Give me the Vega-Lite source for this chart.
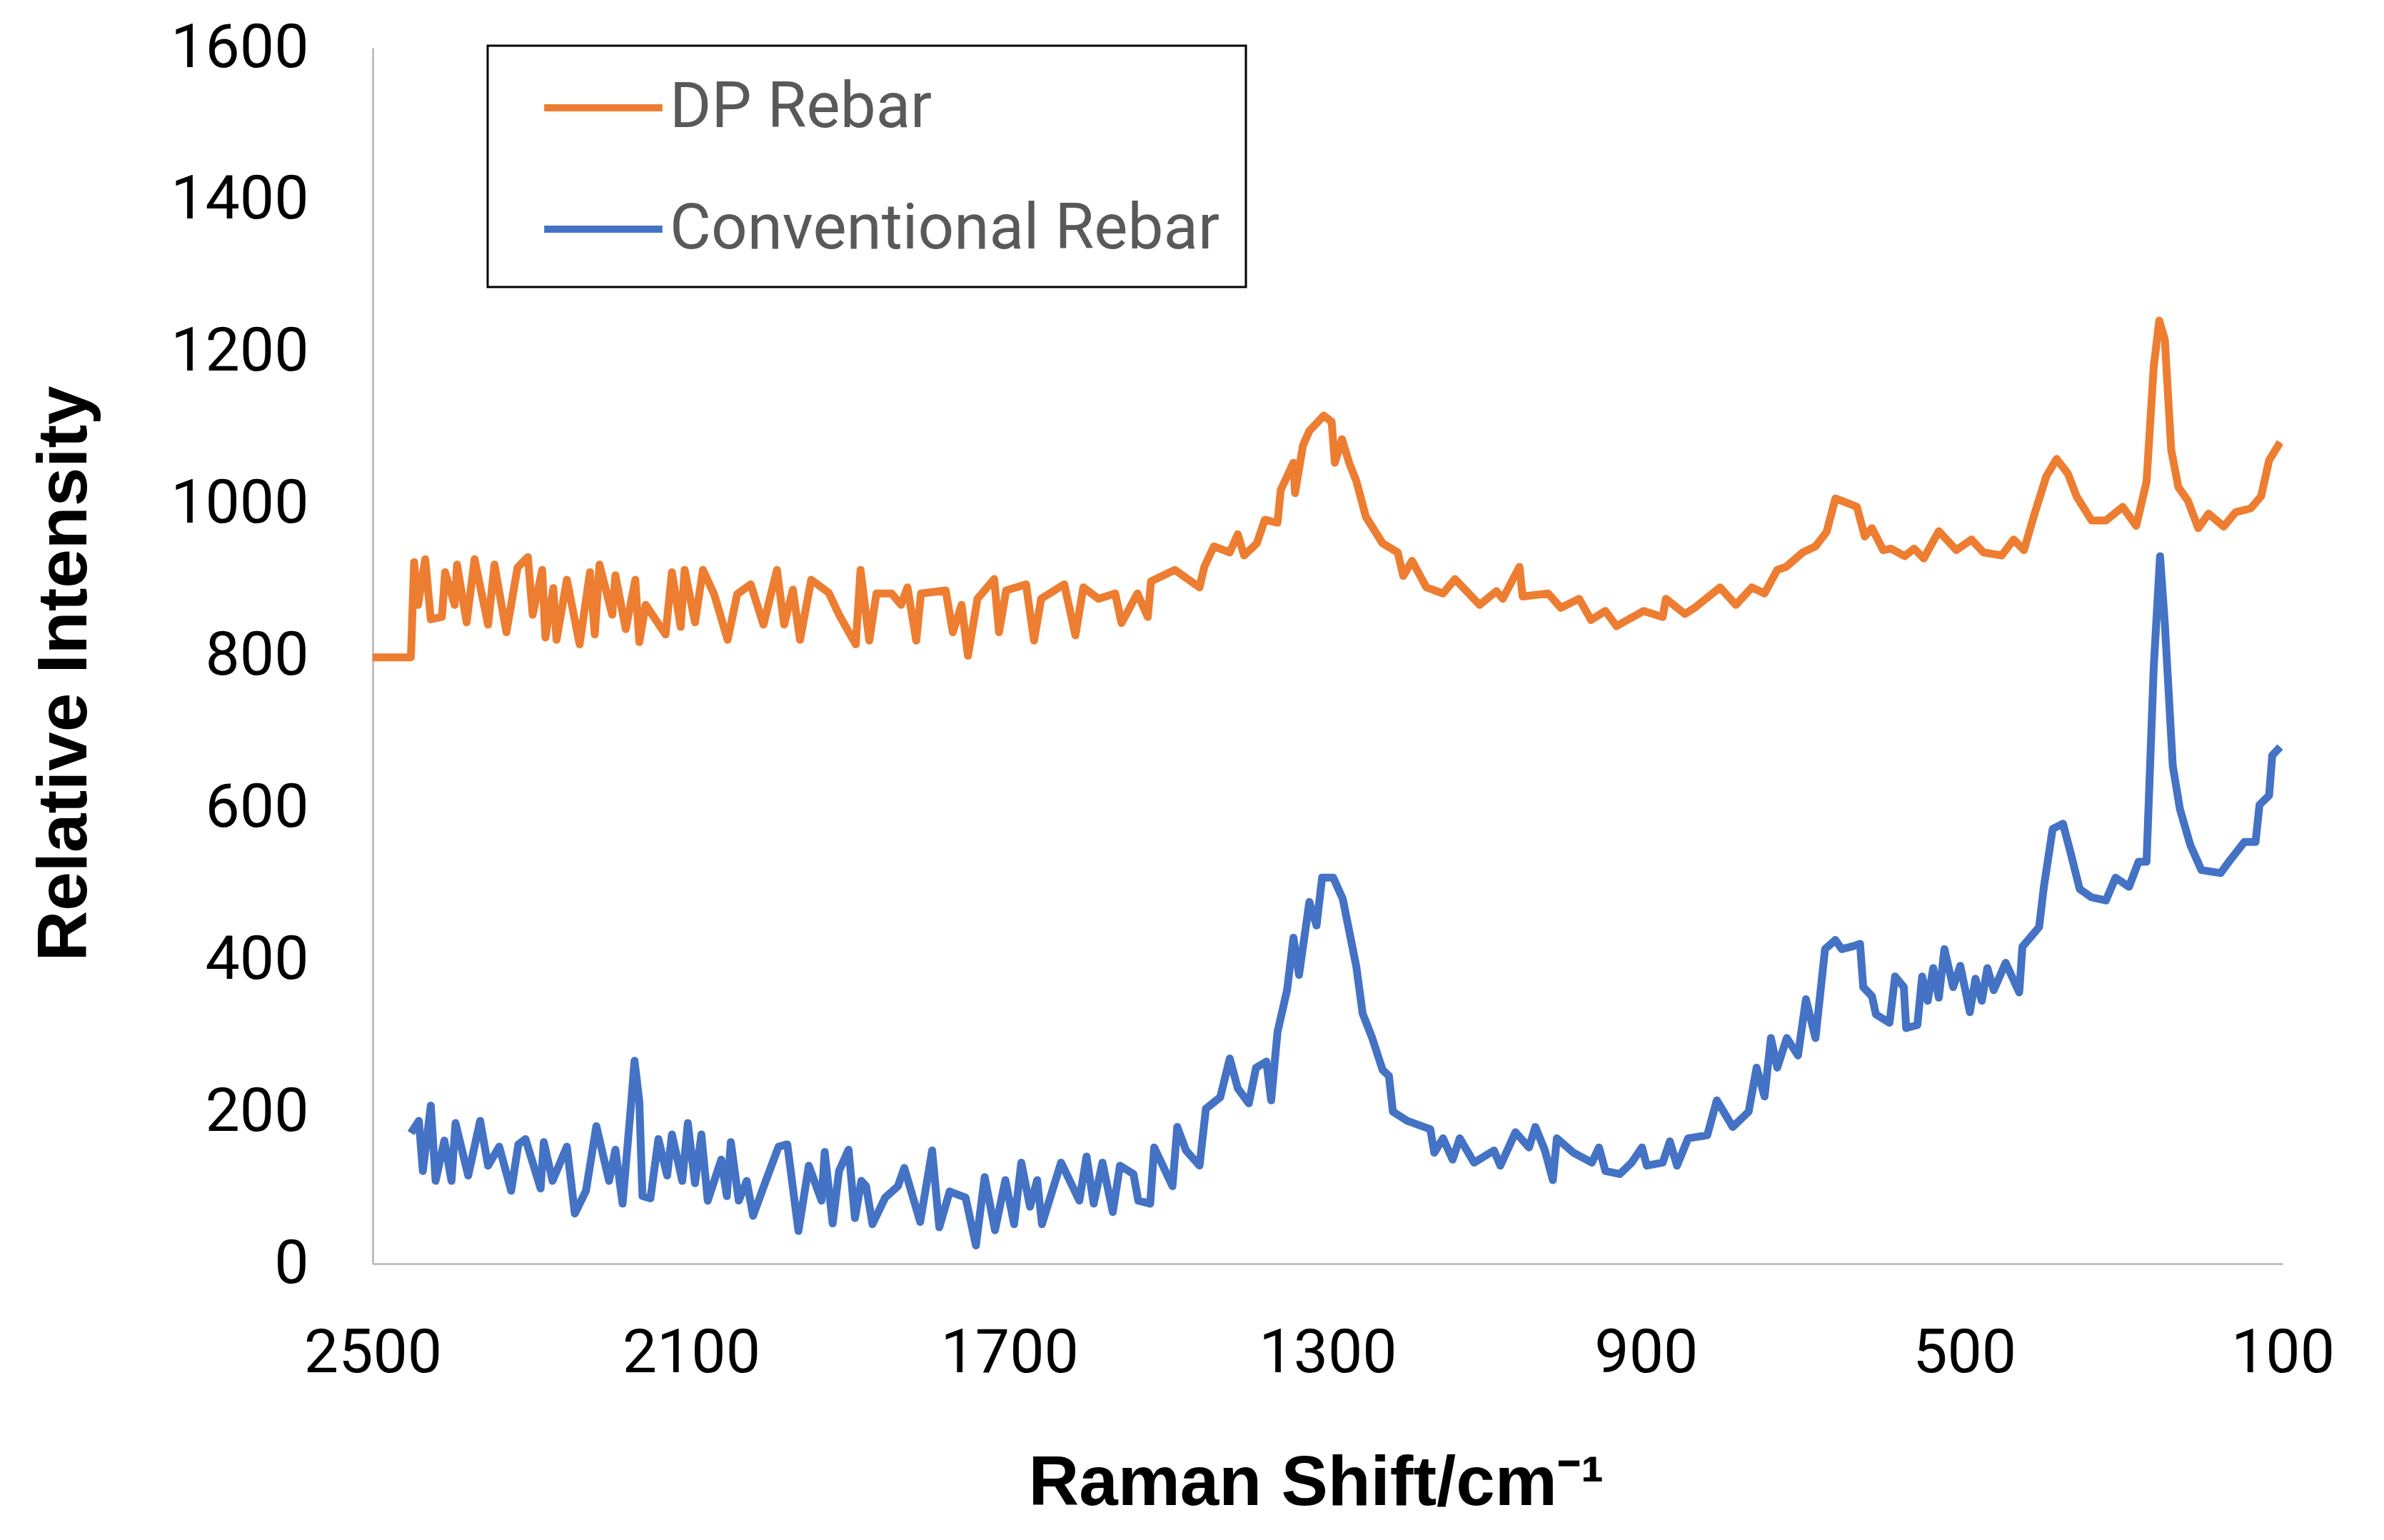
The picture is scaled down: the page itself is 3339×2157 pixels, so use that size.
{
"$schema": "https://vega.github.io/schema/vega-lite/v6.json",
"width": 2675, "height": 1703,
"autosize": {"type": "none"},
"padding": {"left": 522, "top": 67, "right": 142, "bottom": 387},
"background": "white",
"config": {"view": {"stroke": null}},
"data": {"values": [
{"s":"DP Rebar","x":2500,"y":798},{"s":"DP Rebar","x":2452,"y":798},{"s":"DP Rebar","x":2448,"y":923},{"s":"DP Rebar","x":2443,"y":867},{"s":"DP Rebar","x":2434,"y":927},{"s":"DP Rebar","x":2427,"y":848},{"s":"DP Rebar","x":2413,"y":851},{"s":"DP Rebar","x":2409,"y":910},{"s":"DP Rebar","x":2397,"y":867},{"s":"DP Rebar","x":2394,"y":920},{"s":"DP Rebar","x":2382,"y":844},{"s":"DP Rebar","x":2372,"y":927},{"s":"DP Rebar","x":2355,"y":841},{"s":"DP Rebar","x":2347,"y":920},{"s":"DP Rebar","x":2332,"y":831},{"s":"DP Rebar","x":2318,"y":916},{"s":"DP Rebar","x":2305,"y":930},{"s":"DP Rebar","x":2299,"y":854},{"s":"DP Rebar","x":2287,"y":913},{"s":"DP Rebar","x":2283,"y":824},{"s":"DP Rebar","x":2273,"y":889},{"s":"DP Rebar","x":2269,"y":821},{"s":"DP Rebar","x":2256,"y":900},{"s":"DP Rebar","x":2240,"y":815},{"s":"DP Rebar","x":2227,"y":910},{"s":"DP Rebar","x":2221,"y":828},{"s":"DP Rebar","x":2215,"y":920},{"s":"DP Rebar","x":2199,"y":854},{"s":"DP Rebar","x":2195,"y":906},{"s":"DP Rebar","x":2182,"y":835},{"s":"DP Rebar","x":2170,"y":900},{"s":"DP Rebar","x":2165,"y":818},{"s":"DP Rebar","x":2157,"y":867},{"s":"DP Rebar","x":2132,"y":828},{"s":"DP Rebar","x":2124,"y":910},{"s":"DP Rebar","x":2113,"y":838},{"s":"DP Rebar","x":2108,"y":913},{"s":"DP Rebar","x":2095,"y":844},{"s":"DP Rebar","x":2085,"y":913},{"s":"DP Rebar","x":2071,"y":881},{"s":"DP Rebar","x":2054,"y":821},{"s":"DP Rebar","x":2042,"y":881},{"s":"DP Rebar","x":2025,"y":894},{"s":"DP Rebar","x":2009,"y":841},{"s":"DP Rebar","x":1992,"y":913},{"s":"DP Rebar","x":1983,"y":841},{"s":"DP Rebar","x":1972,"y":887},{"s":"DP Rebar","x":1963,"y":821},{"s":"DP Rebar","x":1949,"y":900},{"s":"DP Rebar","x":1927,"y":883},{"s":"DP Rebar","x":1914,"y":854},{"s":"DP Rebar","x":1893,"y":815},{"s":"DP Rebar","x":1887,"y":913},{"s":"DP Rebar","x":1876,"y":820},{"s":"DP Rebar","x":1867,"y":882},{"s":"DP Rebar","x":1848,"y":882},{"s":"DP Rebar","x":1836,"y":867},{"s":"DP Rebar","x":1828,"y":890},{"s":"DP Rebar","x":1817,"y":820},{"s":"DP Rebar","x":1811,"y":882},{"s":"DP Rebar","x":1780,"y":886},{"s":"DP Rebar","x":1771,"y":831},{"s":"DP Rebar","x":1760,"y":867},{"s":"DP Rebar","x":1752,"y":800},{"s":"DP Rebar","x":1740,"y":875},{"s":"DP Rebar","x":1719,"y":901},{"s":"DP Rebar","x":1713,"y":831},{"s":"DP Rebar","x":1704,"y":886},{"s":"DP Rebar","x":1679,"y":894},{"s":"DP Rebar","x":1669,"y":820},{"s":"DP Rebar","x":1660,"y":875},{"s":"DP Rebar","x":1631,"y":894},{"s":"DP Rebar","x":1617,"y":827},{"s":"DP Rebar","x":1607,"y":890},{"s":"DP Rebar","x":1588,"y":875},{"s":"DP Rebar","x":1567,"y":882},{"s":"DP Rebar","x":1559,"y":843},{"s":"DP Rebar","x":1539,"y":882},{"s":"DP Rebar","x":1526,"y":851},{"s":"DP Rebar","x":1522,"y":898},{"s":"DP Rebar","x":1492,"y":913},{"s":"DP Rebar","x":1461,"y":890},{"s":"DP Rebar","x":1455,"y":917},{"s":"DP Rebar","x":1443,"y":944},{"s":"DP Rebar","x":1423,"y":936},{"s":"DP Rebar","x":1413,"y":960},{"s":"DP Rebar","x":1405,"y":932},{"s":"DP Rebar","x":1389,"y":948},{"s":"DP Rebar","x":1379,"y":979},{"s":"DP Rebar","x":1363,"y":975},{"s":"DP Rebar","x":1359,"y":1018},{"s":"DP Rebar","x":1343,"y":1054},{"s":"DP Rebar","x":1341,"y":1014},{"s":"DP Rebar","x":1331,"y":1077},{"s":"DP Rebar","x":1323,"y":1096},{"s":"DP Rebar","x":1305,"y":1116},{"s":"DP Rebar","x":1295,"y":1108},{"s":"DP Rebar","x":1291,"y":1054},{"s":"DP Rebar","x":1282,"y":1085},{"s":"DP Rebar","x":1273,"y":1054},{"s":"DP Rebar","x":1264,"y":1030},{"s":"DP Rebar","x":1252,"y":983},{"s":"DP Rebar","x":1231,"y":948},{"s":"DP Rebar","x":1212,"y":936},{"s":"DP Rebar","x":1205,"y":905},{"s":"DP Rebar","x":1194,"y":925},{"s":"DP Rebar","x":1176,"y":890},{"s":"DP Rebar","x":1155,"y":882},{"s":"DP Rebar","x":1140,"y":901},{"s":"DP Rebar","x":1109,"y":867},{"s":"DP Rebar","x":1088,"y":885},{"s":"DP Rebar","x":1080,"y":875},{"s":"DP Rebar","x":1059,"y":917},{"s":"DP Rebar","x":1055,"y":878},{"s":"DP Rebar","x":1023,"y":882},{"s":"DP Rebar","x":1007,"y":863},{"s":"DP Rebar","x":984,"y":875},{"s":"DP Rebar","x":969,"y":847},{"s":"DP Rebar","x":951,"y":859},{"s":"DP Rebar","x":937,"y":839},{"s":"DP Rebar","x":903,"y":859},{"s":"DP Rebar","x":879,"y":851},{"s":"DP Rebar","x":875,"y":875},{"s":"DP Rebar","x":851,"y":855},{"s":"DP Rebar","x":839,"y":863},{"s":"DP Rebar","x":807,"y":890},{"s":"DP Rebar","x":787,"y":867},{"s":"DP Rebar","x":767,"y":890},{"s":"DP Rebar","x":751,"y":882},{"s":"DP Rebar","x":735,"y":913},{"s":"DP Rebar","x":724,"y":917},{"s":"DP Rebar","x":703,"y":936},{"s":"DP Rebar","x":687,"y":944},{"s":"DP Rebar","x":673,"y":963},{"s":"DP Rebar","x":662,"y":1007},{"s":"DP Rebar","x":654,"y":1004},{"s":"DP Rebar","x":635,"y":996},{"s":"DP Rebar","x":625,"y":957},{"s":"DP Rebar","x":616,"y":968},{"s":"DP Rebar","x":602,"y":939},{"s":"DP Rebar","x":592,"y":941},{"s":"DP Rebar","x":575,"y":931},{"s":"DP Rebar","x":563,"y":941},{"s":"DP Rebar","x":551,"y":928},{"s":"DP Rebar","x":532,"y":964},{"s":"DP Rebar","x":510,"y":939},{"s":"DP Rebar","x":491,"y":953},{"s":"DP Rebar","x":476,"y":936},{"s":"DP Rebar","x":453,"y":932},{"s":"DP Rebar","x":438,"y":953},{"s":"DP Rebar","x":425,"y":939},{"s":"DP Rebar","x":412,"y":986},{"s":"DP Rebar","x":397,"y":1036},{"s":"DP Rebar","x":384,"y":1059},{"s":"DP Rebar","x":370,"y":1040},{"s":"DP Rebar","x":359,"y":1010},{"s":"DP Rebar","x":340,"y":978},{"s":"DP Rebar","x":322,"y":978},{"s":"DP Rebar","x":301,"y":996},{"s":"DP Rebar","x":284,"y":971},{"s":"DP Rebar","x":271,"y":1029},{"s":"DP Rebar","x":262,"y":1180},{"s":"DP Rebar","x":255,"y":1241},{"s":"DP Rebar","x":248,"y":1216},{"s":"DP Rebar","x":240,"y":1071},{"s":"DP Rebar","x":231,"y":1022},{"s":"DP Rebar","x":219,"y":1004},{"s":"DP Rebar","x":206,"y":968},{"s":"DP Rebar","x":193,"y":987},{"s":"DP Rebar","x":174,"y":970},{"s":"DP Rebar","x":159,"y":989},{"s":"DP Rebar","x":140,"y":994},{"s":"DP Rebar","x":127,"y":1010},{"s":"DP Rebar","x":117,"y":1057},{"s":"DP Rebar","x":103,"y":1081},
{"s":"Conventional Rebar","x":2452,"y":172},{"s":"Conventional Rebar","x":2442,"y":188},{"s":"Conventional Rebar","x":2437,"y":122},{"s":"Conventional Rebar","x":2427,"y":208},{"s":"Conventional Rebar","x":2421,"y":109},{"s":"Conventional Rebar","x":2410,"y":162},{"s":"Conventional Rebar","x":2401,"y":109},{"s":"Conventional Rebar","x":2396,"y":185},{"s":"Conventional Rebar","x":2380,"y":116},{"s":"Conventional Rebar","x":2365,"y":188},{"s":"Conventional Rebar","x":2355,"y":129},{"s":"Conventional Rebar","x":2341,"y":154},{"s":"Conventional Rebar","x":2326,"y":96},{"s":"Conventional Rebar","x":2317,"y":157},{"s":"Conventional Rebar","x":2308,"y":164},{"s":"Conventional Rebar","x":2289,"y":99},{"s":"Conventional Rebar","x":2285,"y":160},{"s":"Conventional Rebar","x":2274,"y":109},{"s":"Conventional Rebar","x":2256,"y":154},{"s":"Conventional Rebar","x":2246,"y":66},{"s":"Conventional Rebar","x":2232,"y":96},{"s":"Conventional Rebar","x":2219,"y":181},{"s":"Conventional Rebar","x":2203,"y":109},{"s":"Conventional Rebar","x":2195,"y":150},{"s":"Conventional Rebar","x":2186,"y":79},{"s":"Conventional Rebar","x":2175,"y":214},{"s":"Conventional Rebar","x":2171,"y":267},{"s":"Conventional Rebar","x":2165,"y":214},{"s":"Conventional Rebar","x":2161,"y":89},{"s":"Conventional Rebar","x":2151,"y":86},{"s":"Conventional Rebar","x":2141,"y":164},{"s":"Conventional Rebar","x":2130,"y":116},{"s":"Conventional Rebar","x":2124,"y":170},{"s":"Conventional Rebar","x":2111,"y":109},{"s":"Conventional Rebar","x":2104,"y":185},{"s":"Conventional Rebar","x":2095,"y":106},{"s":"Conventional Rebar","x":2087,"y":170},{"s":"Conventional Rebar","x":2079,"y":83},{"s":"Conventional Rebar","x":2062,"y":137},{"s":"Conventional Rebar","x":2055,"y":89},{"s":"Conventional Rebar","x":2050,"y":160},{"s":"Conventional Rebar","x":2040,"y":83},{"s":"Conventional Rebar","x":2030,"y":109},{"s":"Conventional Rebar","x":2022,"y":63},{"s":"Conventional Rebar","x":2006,"y":109},{"s":"Conventional Rebar","x":1990,"y":154},{"s":"Conventional Rebar","x":1979,"y":157},{"s":"Conventional Rebar","x":1965,"y":43},{"s":"Conventional Rebar","x":1952,"y":129},{"s":"Conventional Rebar","x":1936,"y":83},{"s":"Conventional Rebar","x":1932,"y":147},{"s":"Conventional Rebar","x":1922,"y":53},{"s":"Conventional Rebar","x":1914,"y":122},{"s":"Conventional Rebar","x":1902,"y":150},{"s":"Conventional Rebar","x":1894,"y":60},{"s":"Conventional Rebar","x":1886,"y":109},{"s":"Conventional Rebar","x":1880,"y":102},{"s":"Conventional Rebar","x":1872,"y":52},{"s":"Conventional Rebar","x":1856,"y":87},{"s":"Conventional Rebar","x":1840,"y":102},{"s":"Conventional Rebar","x":1832,"y":126},{"s":"Conventional Rebar","x":1812,"y":55},{"s":"Conventional Rebar","x":1797,"y":149},{"s":"Conventional Rebar","x":1788,"y":48},{"s":"Conventional Rebar","x":1775,"y":95},{"s":"Conventional Rebar","x":1755,"y":87},{"s":"Conventional Rebar","x":1742,"y":24},{"s":"Conventional Rebar","x":1731,"y":114},{"s":"Conventional Rebar","x":1718,"y":44},{"s":"Conventional Rebar","x":1705,"y":110},{"s":"Conventional Rebar","x":1694,"y":52},{"s":"Conventional Rebar","x":1685,"y":133},{"s":"Conventional Rebar","x":1674,"y":75},{"s":"Conventional Rebar","x":1665,"y":110},{"s":"Conventional Rebar","x":1659,"y":52},{"s":"Conventional Rebar","x":1635,"y":133},{"s":"Conventional Rebar","x":1612,"y":83},{"s":"Conventional Rebar","x":1603,"y":141},{"s":"Conventional Rebar","x":1594,"y":79},{"s":"Conventional Rebar","x":1583,"y":133},{"s":"Conventional Rebar","x":1570,"y":68},{"s":"Conventional Rebar","x":1561,"y":129},{"s":"Conventional Rebar","x":1544,"y":118},{"s":"Conventional Rebar","x":1538,"y":83},{"s":"Conventional Rebar","x":1523,"y":79},{"s":"Conventional Rebar","x":1518,"y":153},{"s":"Conventional Rebar","x":1495,"y":102},{"s":"Conventional Rebar","x":1489,"y":180},{"s":"Conventional Rebar","x":1478,"y":149},{"s":"Conventional Rebar","x":1461,"y":129},{"s":"Conventional Rebar","x":1453,"y":204},{"s":"Conventional Rebar","x":1435,"y":219},{"s":"Conventional Rebar","x":1423,"y":270},{"s":"Conventional Rebar","x":1413,"y":231},{"s":"Conventional Rebar","x":1399,"y":211},{"s":"Conventional Rebar","x":1390,"y":258},{"s":"Conventional Rebar","x":1377,"y":266},{"s":"Conventional Rebar","x":1371,"y":215},{"s":"Conventional Rebar","x":1363,"y":305},{"s":"Conventional Rebar","x":1351,"y":360},{"s":"Conventional Rebar","x":1343,"y":429},{"s":"Conventional Rebar","x":1336,"y":380},{"s":"Conventional Rebar","x":1323,"y":476},{"s":"Conventional Rebar","x":1314,"y":445},{"s":"Conventional Rebar","x":1307,"y":508},{"s":"Conventional Rebar","x":1293,"y":508},{"s":"Conventional Rebar","x":1281,"y":480},{"s":"Conventional Rebar","x":1264,"y":391},{"s":"Conventional Rebar","x":1256,"y":329},{"s":"Conventional Rebar","x":1244,"y":297},{"s":"Conventional Rebar","x":1231,"y":255},{"s":"Conventional Rebar","x":1223,"y":247},{"s":"Conventional Rebar","x":1218,"y":200},{"s":"Conventional Rebar","x":1200,"y":188},{"s":"Conventional Rebar","x":1171,"y":177},{"s":"Conventional Rebar","x":1166,"y":146},{"s":"Conventional Rebar","x":1155,"y":165},{"s":"Conventional Rebar","x":1143,"y":137},{"s":"Conventional Rebar","x":1134,"y":165},{"s":"Conventional Rebar","x":1116,"y":133},{"s":"Conventional Rebar","x":1091,"y":149},{"s":"Conventional Rebar","x":1083,"y":129},{"s":"Conventional Rebar","x":1064,"y":173},{"s":"Conventional Rebar","x":1047,"y":153},{"s":"Conventional Rebar","x":1039,"y":180},{"s":"Conventional Rebar","x":1027,"y":149},{"s":"Conventional Rebar","x":1017,"y":110},{"s":"Conventional Rebar","x":1012,"y":165},{"s":"Conventional Rebar","x":991,"y":146},{"s":"Conventional Rebar","x":968,"y":133},{"s":"Conventional Rebar","x":959,"y":153},{"s":"Conventional Rebar","x":951,"y":122},{"s":"Conventional Rebar","x":933,"y":118},{"s":"Conventional Rebar","x":918,"y":133},{"s":"Conventional Rebar","x":905,"y":153},{"s":"Conventional Rebar","x":899,"y":129},{"s":"Conventional Rebar","x":879,"y":133},{"s":"Conventional Rebar","x":870,"y":161},{"s":"Conventional Rebar","x":861,"y":129},{"s":"Conventional Rebar","x":847,"y":165},{"s":"Conventional Rebar","x":823,"y":169},{"s":"Conventional Rebar","x":811,"y":215},{"s":"Conventional Rebar","x":791,"y":180},{"s":"Conventional Rebar","x":771,"y":200},{"s":"Conventional Rebar","x":761,"y":258},{"s":"Conventional Rebar","x":751,"y":220},{"s":"Conventional Rebar","x":743,"y":297},{"s":"Conventional Rebar","x":735,"y":258},{"s":"Conventional Rebar","x":723,"y":297},{"s":"Conventional Rebar","x":709,"y":274},{"s":"Conventional Rebar","x":699,"y":348},{"s":"Conventional Rebar","x":687,"y":297},{"s":"Conventional Rebar","x":675,"y":414},{"s":"Conventional Rebar","x":662,"y":426},{"s":"Conventional Rebar","x":654,"y":414},{"s":"Conventional Rebar","x":639,"y":418},{"s":"Conventional Rebar","x":631,"y":421},{"s":"Conventional Rebar","x":627,"y":364},{"s":"Conventional Rebar","x":616,"y":352},{"s":"Conventional Rebar","x":611,"y":328},{"s":"Conventional Rebar","x":594,"y":317},{"s":"Conventional Rebar","x":587,"y":378},{"s":"Conventional Rebar","x":576,"y":364},{"s":"Conventional Rebar","x":573,"y":310},{"s":"Conventional Rebar","x":559,"y":314},{"s":"Conventional Rebar","x":553,"y":378},{"s":"Conventional Rebar","x":546,"y":346},{"s":"Conventional Rebar","x":539,"y":389},{"s":"Conventional Rebar","x":532,"y":350},{"s":"Conventional Rebar","x":525,"y":414},{"s":"Conventional Rebar","x":514,"y":364},{"s":"Conventional Rebar","x":505,"y":392},{"s":"Conventional Rebar","x":493,"y":331},{"s":"Conventional Rebar","x":486,"y":375},{"s":"Conventional Rebar","x":478,"y":346},{"s":"Conventional Rebar","x":471,"y":389},{"s":"Conventional Rebar","x":463,"y":360},{"s":"Conventional Rebar","x":448,"y":396},{"s":"Conventional Rebar","x":431,"y":357},{"s":"Conventional Rebar","x":427,"y":417},{"s":"Conventional Rebar","x":406,"y":443},{"s":"Conventional Rebar","x":400,"y":496},{"s":"Conventional Rebar","x":389,"y":572},{"s":"Conventional Rebar","x":376,"y":579},{"s":"Conventional Rebar","x":366,"y":539},{"s":"Conventional Rebar","x":355,"y":493},{"s":"Conventional Rebar","x":340,"y":482},{"s":"Conventional Rebar","x":322,"y":478},{"s":"Conventional Rebar","x":310,"y":508},{"s":"Conventional Rebar","x":293,"y":496},{"s":"Conventional Rebar","x":281,"y":529},{"s":"Conventional Rebar","x":271,"y":529},{"s":"Conventional Rebar","x":262,"y":784},{"s":"Conventional Rebar","x":254,"y":931},{"s":"Conventional Rebar","x":248,"y":842},{"s":"Conventional Rebar","x":238,"y":655},{"s":"Conventional Rebar","x":229,"y":598},{"s":"Conventional Rebar","x":216,"y":551},{"s":"Conventional Rebar","x":202,"y":518},{"s":"Conventional Rebar","x":178,"y":514},{"s":"Conventional Rebar","x":166,"y":531},{"s":"Conventional Rebar","x":148,"y":555},{"s":"Conventional Rebar","x":134,"y":555},{"s":"Conventional Rebar","x":129,"y":604},{"s":"Conventional Rebar","x":117,"y":616},{"s":"Conventional Rebar","x":113,"y":669},{"s":"Conventional Rebar","x":103,"y":680}
]},
"mark": {"type": "line", "strokeWidth": 11, "strokeJoin": "round", "clip": true},
"encoding": {
  "x": {"field": "x", "type": "quantitative",
    "scale": {"domain": [2500, 100], "nice": false, "zero": false},
    "axis": {"values": [2500, 2100, 1700, 1300, 900, 500, 100], "format": "d", "title": "Raman Shift/cm\u207b\u00b9",
      "grid": false, "ticks": false, "domainColor": "#BFBFBF", "domainWidth": 3,
      "labelFont": "Roboto", "labelFontSize": 86, "labelColor": "#000000", "labelPadding": 83, "labelLimit": 1000,
      "labelFlush": false, "labelOverlap": false,
      "titleFont": "Liberation Sans", "titleFontWeight": "bold", "titleFontSize": 98, "titleColor": "#000000",
      "titleBaseline": "alphabetic", "titleY": 337, "titleX": 1321}},
  "y": {"field": "y", "type": "quantitative",
    "scale": {"domain": [0, 1600], "nice": false},
    "axis": {"values": [0, 200, 400, 600, 800, 1000, 1200, 1400, 1600], "format": "d", "title": "Relative Intensity",
      "grid": false, "ticks": false, "domainColor": "#BFBFBF", "domainWidth": 3,
      "labelFont": "Roboto", "labelFontSize": 86, "labelColor": "#000000", "labelPadding": 90, "labelLimit": 1000,
      "labelFlush": false, "labelOverlap": false,
      "titleFont": "Liberation Sans", "titleFontWeight": "bold", "titleFontSize": 98, "titleColor": "#000000",
      "titleBaseline": "alphabetic", "titleAngle": -90, "titleAlign": "center", "titleX": -402, "titleY": 876}},
  "color": {"field": "s", "type": "nominal",
    "scale": {"domain": ["DP Rebar", "Conventional Rebar"], "range": ["#ED7D31", "#4472C4"]},
    "legend": {"orient": "none", "legendX": 161, "legendY": -3, "title": null, "direction": "vertical",
      "symbolType": "M-1.8,0H1.8", "symbolSize": 8464, "symbolStrokeWidth": 10, "symbolOffset": 75,
      "labelOffset": 42, "labelFont": "Roboto", "labelFontSize": 89, "labelColor": "#595959", "labelLimit": 3000,
      "strokeColor": "#000000", "padding": 36, "rowPadding": 74,
      "encode": {"legend": {"update": {"strokeWidth": {"value": 3}}}}}}
}
}
